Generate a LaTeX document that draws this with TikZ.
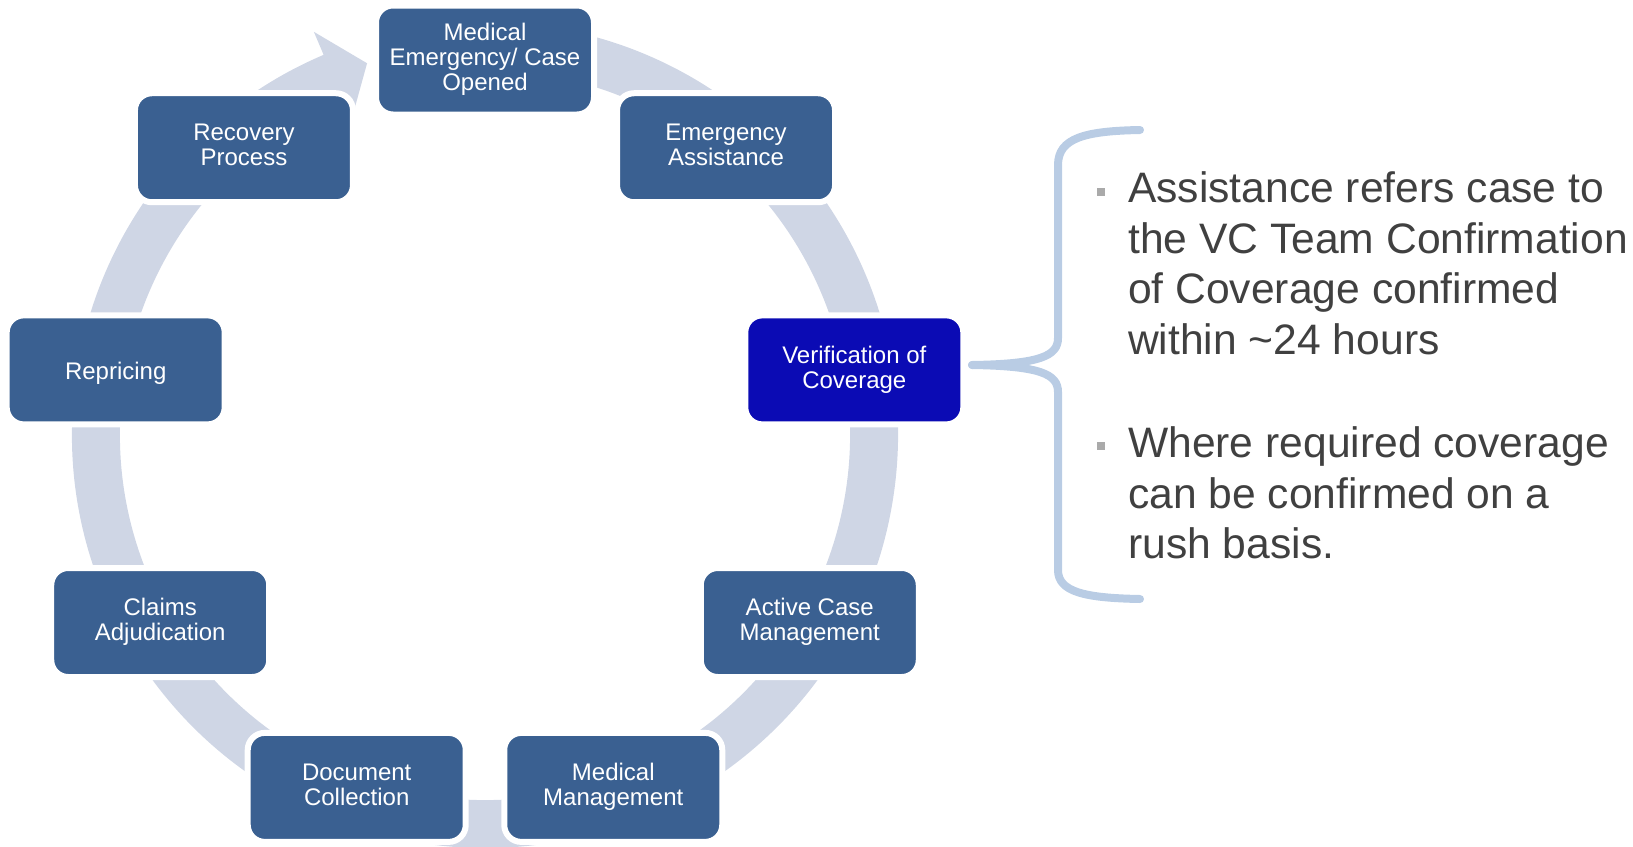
\documentclass[tikz,border=0pt]{standalone}
\usepackage{fontspec}
\setmainfont{Liberation Sans}
\usetikzlibrary{calc}

\definecolor{ringfill}{RGB}{207,214,229}
\definecolor{boxfill}{RGB}{58,96,145}
\definecolor{boxhi}{RGB}{11,11,180}
\definecolor{bracec}{RGB}{185,204,228}
\definecolor{bodytext}{RGB}{64,64,64}
\definecolor{bulletc}{RGB}{170,170,170}

% strut that sets the vertical placement of a label in its box
\newcommand\labelstrut{\rule[-5.5pt]{0pt}{30pt}}

\begin{document}
\begin{tikzpicture}[x=1pt,y=1pt,
  stage/.style={rectangle, rounded corners=17pt, fill=boxfill, draw=white,
    line width=6pt, minimum width=218pt, minimum height=109pt, inner sep=0pt,
    text=white, align=center, font=\fontsize{24}{25}\selectfont,
    execute at begin node=\labelstrut, execute at end node=\labelstrut},
  current/.style={stage, fill=boxhi},
  bodyline/.style={anchor=base west, inner sep=0pt, text=bodytext,
    font=\fontsize{42.6}{50}\selectfont},
  bulletsq/.style={rectangle, fill=bulletc, minimum size=8pt, inner sep=0pt},
  bracepath/.style={draw=bracec, line width=8pt, line cap=round, line join=round}]

\useasboundingbox (0,0) rectangle (1633,-846);
\clip (0,0) rectangle (1633,-846);

% centre of the cycle
\coordinate (C) at (485,-435);

% circular arrow ring running clockwise, head ending at the first stage
\fill[ringfill]
  ($(C)+(80:413)$) arc[start angle=80, end angle=-247, radius=413]
  -- ($(C)+(113:438)$) -- ($(C)+(107.6:390)$) -- ($(C)+(113:342)$)
  -- ($(C)+(113:365)$) arc[start angle=-247, end angle=80, radius=365]
  -- cycle;

% stages of the cycle
\node[stage]   (med) at ($(C)+(90:375)$)   {Medical\\Emergency/ Case\\Opened};
\node[stage]   (ea)  at ($(C)+(50:375)$)   {Emergency\\Assistance};
\node[current] (ver) at ($(C)+(10:375)$)   {Verification of\\Coverage};
\node[stage]   (acm) at ($(C)+(-30:375)$)  {Active Case\\Management};
\node[stage]   (mm)  at ($(C)+(-70:375)$)  {Medical\\Management};
\node[stage]   (doc) at ($(C)+(-110:375)$) {Document\\Collection};
\node[stage]   (cla) at ($(C)+(-150:375)$) {Claims\\Adjudication};
\node[stage]   (rep) at ($(C)+(170:375)$)  {Repricing};
\node[stage]   (rec) at ($(C)+(130:375)$)  {Recovery\\Process};

% brace pointing at the current stage
\coordinate (braceTip) at (972,-365);
\draw[bracepath] (1140,-130) .. controls (1085,-131) and (1058,-138) .. (1058,-165)
  -- (1058,-338) .. controls (1058,-356) and (1040,-364) .. (braceTip);
\draw[bracepath] (braceTip) .. controls (1040,-366) and (1058,-374) .. (1058,-392)
  -- (1058,-570) .. controls (1058,-592) and (1085,-598) .. (1140,-599);

% notes on the current stage
\node[bulletsq] (b1) at (1101,-191.5) {};
\node[bodyline] (t1) at (1128,-202.5) {Assistance refers case to};
\node[bodyline] (t2) at (1128,-253)   {the VC Team Confirmation};
\node[bodyline] (t3) at (1128,-303.5) {of Coverage confirmed};
\node[bodyline] (t4) at (1128,-354)   {within \textasciitilde24 hours};

\node[bulletsq] (b2) at (1101,-446) {};
\node[bodyline] (t5) at (1128,-457.5) {Where required coverage};
\node[bodyline] (t6) at (1128,-508)   {can be confirmed on a};
\node[bodyline] (t7) at (1128,-558.5) {rush basis.};

\end{tikzpicture}
\end{document}
